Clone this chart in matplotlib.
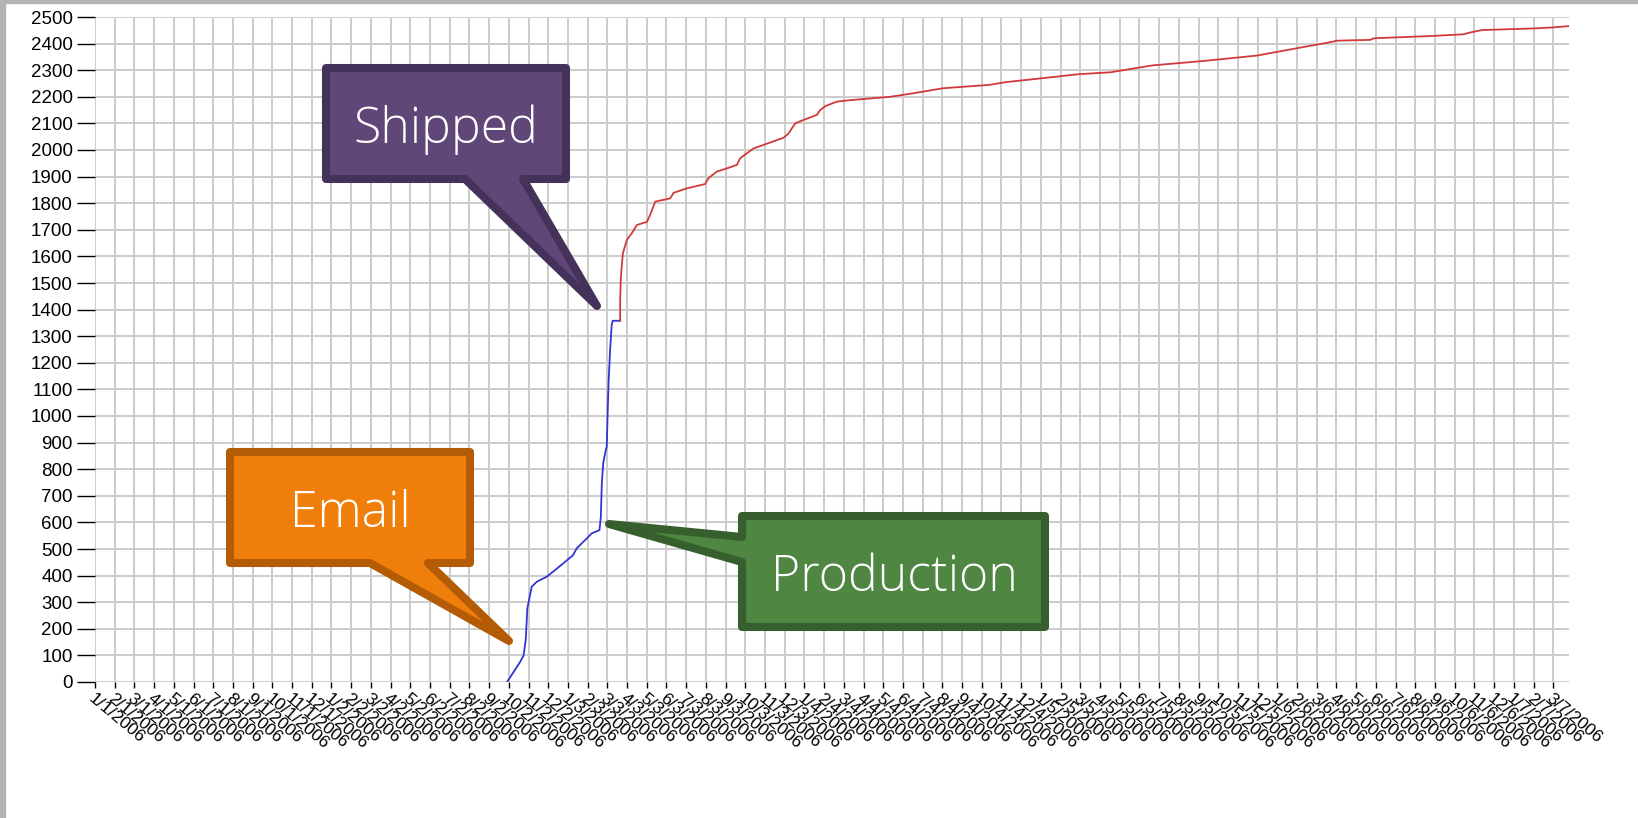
import matplotlib.pyplot as plt
import matplotlib.patches as patches

# canvas size in pixels
W, H = 1638, 818

# x positions are in tick units (one unit = one tick interval)
production_x = [20.91, 21.57, 21.75, 21.86, 21.94, 22.16, 22.42, 22.93, 23.35, 23.86,
                24.26, 24.45, 24.96, 25.21, 25.60, 25.67, 25.72, 25.79, 25.92, 25.97,
                26.01, 26.06, 26.14, 26.22, 26.27, 26.65]
production_y = [0, 75, 100, 160, 277, 358, 377, 396, 421, 452,
                477, 503, 540, 559, 571, 621, 748, 823, 872, 885,
                997, 1124, 1248, 1342, 1358, 1358]

shipped_x = [26.65, 26.65, 26.68, 26.74, 26.79, 26.99, 27.24, 27.50, 28.01, 28.17,
             28.43, 29.19, 29.36, 30.04, 30.96, 31.13, 31.56, 32.07, 32.57, 32.74,
             33.42, 34.26, 34.94, 35.19, 35.53, 35.95, 36.63, 36.80, 37.06, 37.65,
             38.41, 40.36, 41.42, 43.02, 45.41, 46.20, 48.33, 49.92, 51.52, 53.65,
             56.30, 58.96, 61.17, 62.52, 63.03, 64.72, 64.89, 67.92, 69.44, 69.80,
             70.39, 73.00, 74.01, 74.82]
shipped_y = [1358, 1436, 1511, 1574, 1612, 1662, 1687, 1718, 1730, 1756,
             1806, 1818, 1839, 1856, 1872, 1894, 1919, 1931, 1944, 1969,
             2006, 2028, 2046, 2062, 2100, 2113, 2132, 2150, 2165, 2182,
             2188, 2200, 2212, 2232, 2245, 2255, 2272, 2285, 2292, 2318,
             2335, 2355, 2385, 2403, 2411, 2414, 2420, 2429, 2435, 2442,
             2451, 2457, 2461, 2466]

tick_labels = ['%d/%d/2006' % (m, d) for d in range(1, 8) for m in range(1, 13)][:75]
y_ticks = list(range(0, 2501, 100))

callouts = [
    ('Shipped', '#5f4777', '#45325a',
     [(326, 68), (566, 68), (566, 179), (523, 179), (597, 306), (465, 179), (326, 179)],
     (446, 143)),
    ('Email', '#ef7f0a', '#b35c05',
     [(230, 452), (470, 452), (470, 563), (428, 563), (509, 641), (370, 563), (230, 563)],
     (350, 527)),
    ('Production', '#4e8642', '#375f2d',
     [(742, 516), (1045, 516), (1045, 627), (742, 627), (742, 562), (609, 524), (742, 537)],
     (894, 591)),
]


def px(p):
    return (p[0] / W, 1 - p[1] / H)


plt.rcParams['font.family'] = ['Liberation Sans', 'DejaVu Sans']

fig = plt.figure(figsize=(W / 100, H / 100), dpi=100)
ax = fig.add_axes([95 / W, 1 - 682 / H, (1569 - 95) / W, (682 - 17) / H])

ax.plot(production_x, production_y, color='#3434d2', lw=1.3, solid_joinstyle='round')
ax.plot(shipped_x, shipped_y, color='#d23a3a', lw=1.3, solid_joinstyle='round')

ax.set_xlim(0, 74.8)
ax.set_ylim(0, 2500)
ax.set_xticks(range(len(tick_labels)))
ax.set_xticklabels(tick_labels, rotation=-40, ha='left', va='top',
                   rotation_mode='anchor', fontsize=12.5)
ax.set_yticks(y_ticks)
ax.set_yticklabels([str(v) for v in y_ticks], fontsize=13.5)
ax.tick_params(axis='y', length=13, width=1, pad=3, color='black')
ax.tick_params(axis='x', length=4.5, width=1, pad=2, color='black')
ax.grid(True, color='#cccccc', lw=1.4)
ax.set_axisbelow(True)
for s in ax.spines.values():
    s.set_visible(False)

# gray frame strips at the top and left edges
fig.patches.append(patches.Rectangle((0, 1 - 3 / H), 1, 3 / H, transform=fig.transFigure,
                                     color='#b3b3b3', zorder=0))
fig.patches.append(patches.Rectangle((0, 0), 5 / W, 1, transform=fig.transFigure,
                                     color='#b3b3b3', zorder=0))

# speech-bubble callouts
for text, fill, edge, pts, tpos in callouts:
    poly = patches.Polygon([px(p) for p in pts], closed=True, transform=fig.transFigure,
                           facecolor=fill, edgecolor=edge, lw=5.8, joinstyle='round', zorder=5)
    fig.patches.append(poly)
    x, y = px(tpos)
    fig.text(x, y, text, color='white', fontsize=36, ha='center', va='baseline',
             family=['Open Sans', 'DejaVu Sans'], weight='light', zorder=6)

fig.savefig('out.png', dpi=100)
